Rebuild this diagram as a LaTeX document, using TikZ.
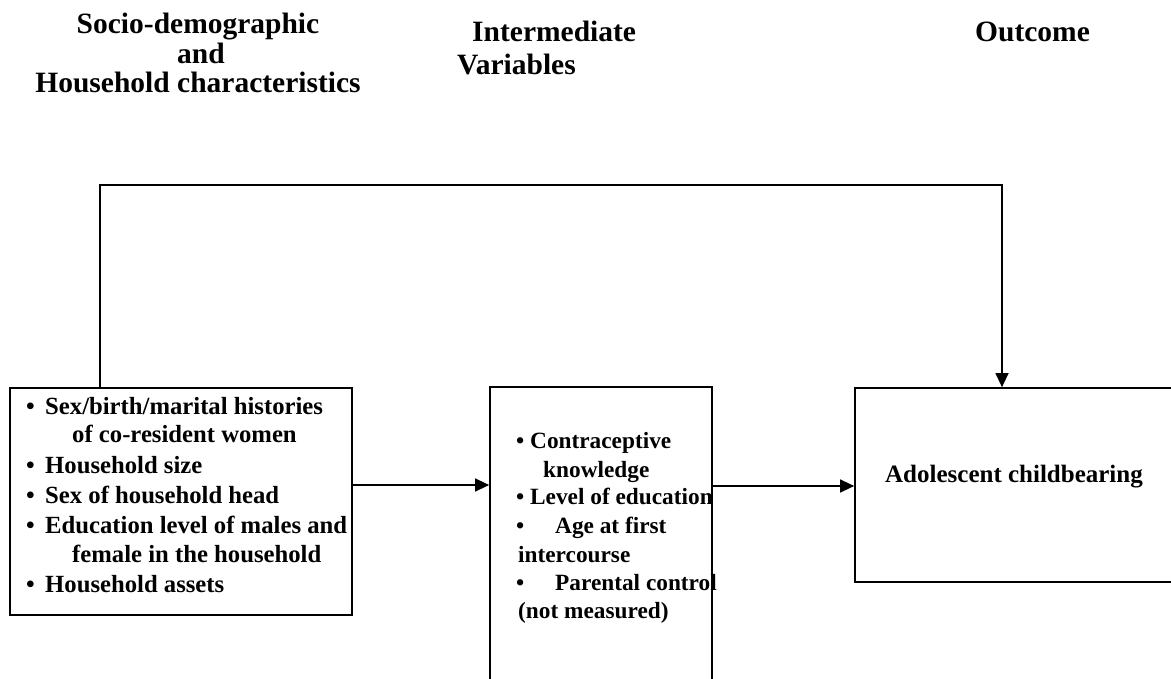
\documentclass[tikz,border=0pt]{standalone}
\usepackage{fontspec}
\setmainfont{Liberation Serif}
\usetikzlibrary{arrows.meta}
\begin{document}
\begin{tikzpicture}[x=1pt,y=-1pt,
  box/.style={draw, line width=1.7pt, inner sep=0pt},
  conn/.style={line width=1.3pt},
  arr/.style={conn, -{Triangle[length=14pt,width=13pt]}},
  txt/.style={inner sep=0pt, anchor=base west, font=\fontsize{24.7}{28}\selectfont\bfseries},
  mtxt/.style={txt, font=\fontsize{23.3}{28}\selectfont\bfseries},
  hdr/.style={inner sep=0pt, font=\fontsize{29.5}{34}\selectfont\bfseries}]
\useasboundingbox (0,0) rectangle (1171,679);
\clip (0,0) rectangle (1171,679);

% headers
\node[hdr, anchor=base] (h1a) at (198,34) {Socio-demographic};
\node[hdr, anchor=base] (h1b) at (201,64) {and};
\node[hdr, anchor=base] (h1c) at (198,93) {Household characteristics};
\node[hdr, anchor=base west] (h2a) at (472,42) {Intermediate};
\node[hdr, anchor=base west] (h2b) at (457,75) {Variables};
\node[hdr, anchor=base west] (h3) at (975,42) {Outcome};

% boxes
\node[box, minimum width=342pt, minimum height=227pt] (L) at (181,501.5) {};
\node[box, minimum width=222pt, minimum height=340pt] (M) at (601,557) {};
\node[box, minimum width=360pt, minimum height=194pt] (R) at (1035,485) {};

% left box text
\node[txt] (lb1) at (26,414) {•};
\node[txt] (lt1) at (45,414) {Sex/birth/marital histories};
\node[txt] (lt1b) at (72,442) {of co-resident women};
\node[txt] (lb2) at (26,473) {•};
\node[txt] (lt2) at (45,473) {Household size};
\node[txt] (lb3) at (26,503) {•};
\node[txt] (lt3) at (45,503) {Sex of household head};
\node[txt] (lb4) at (26,533) {•};
\node[txt] (lt4) at (45,533) {Education level of males and};
\node[txt] (lt4b) at (72,562) {female in the household};
\node[txt] (lb5) at (26,592) {•};
\node[txt] (lt5) at (45,592) {Household assets};

% middle box text
\node[mtxt] (mb1) at (516,448) {•};
\node[mtxt] (mt1) at (530,448) {Contraceptive};
\node[mtxt] (mt1b) at (543,477) {knowledge};
\node[mtxt] (mb2) at (516,504) {•};
\node[mtxt] (mt2) at (530,504) {Level of education};
\node[mtxt] (mb3) at (516,533) {•};
\node[mtxt] (mt3) at (555,533) {Age at first};
\node[mtxt] (mt3b) at (518,562) {intercourse};
\node[mtxt] (mb4) at (516,590) {•};
\node[mtxt] (mt4) at (555,590) {Parental control};
\node[mtxt] (mt4b) at (518,618) {(not measured)};

% right box text
\node[txt, anchor=base, font=\fontsize{25}{28}\selectfont\bfseries] (rt) at (1014,482) {Adolescent childbearing};

% connectors
\coordinate (yA) at (0,485);
\coordinate (yB) at (0,486);
\coordinate (tl) at (100,185);
\coordinate (tr) at (1002,185);
\draw[arr] (L.east |- yA) -- (M.west |- yA);
\draw[arr] (M.east |- yB) -- (R.west |- yB);
\draw[arr] (tl |- L.north) -- (tl) -- (tr) -- (tr |- R.north);
\end{tikzpicture}
\end{document}
